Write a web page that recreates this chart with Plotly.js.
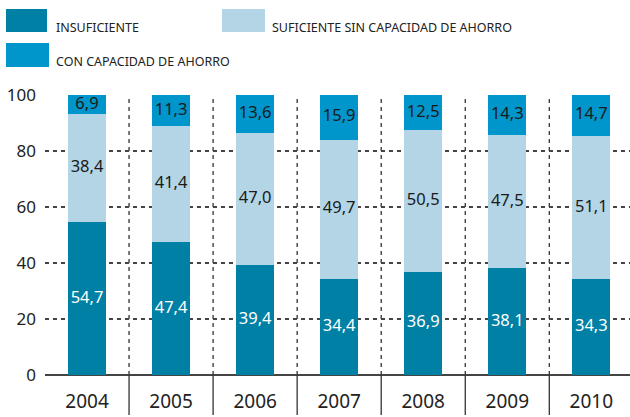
<!DOCTYPE html>
<html>
<head>
<meta charset="utf-8">
<script src="https://cdn.plot.ly/plotly-3.0.1.min.js"></script>
<style>html,body{margin:0;padding:0;background:#fff;}#chart{width:630px;height:417px;}</style>
</head>
<body>
<div id="chart"></div>
<script>
const years = ["2004","2005","2006","2007","2008","2009","2010"];
const insuficiente = [54.7, 47.4, 39.4, 34.4, 36.9, 38.1, 34.3];
const suficienteSin = [38.4, 41.4, 47.0, 49.7, 50.5, 47.5, 51.1];
const conCapacidad = [6.9, 11.3, 13.6, 15.9, 12.5, 14.3, 14.7];
const seriesNames = ["INSUFICIENTE", "SUFICIENTE SIN CAPACIDAD DE AHORRO", "CON CAPACIDAD DE AHORRO"];
const yTicks = [0, 20, 40, 60, 80, 100];

const colors = ["#0080A4", "#B3D5E6", "#0095CB"];
const textColors = ["#ffffff", "#1a1a1a", "#1a1a1a"];
const FONT = "Noto Sans, sans-serif";
const fmt = v => v.toFixed(1).replace(".", ",");

const seriesData = [insuficiente, suficienteSin, conCapacidad];
const traces = [];
const base = years.map(() => 0);
seriesData.forEach((vals, i) => {
  traces.push({
    type: "bar",
    x: years,
    y: vals,
    name: seriesNames[i],
    marker: {color: colors[i], line: {width: 0}},
    textposition: "none",
    hoverinfo: "skip"
  });
});
// value labels placed at the middle of each stacked segment
seriesData.forEach((vals, i) => {
  const mids = vals.map((v, j) => base[j] + v / 2);
  vals.forEach((v, j) => { base[j] += v; });
  traces.push({
    type: "scatter",
    mode: "text",
    x: years,
    y: mids,
    text: vals.map(fmt),
    textposition: "middle center",
    textfont: {family: FONT, size: 16.5, color: textColors[i]},
    hoverinfo: "skip",
    showlegend: false,
    cliponaxis: false
  });
});

// layout geometry helpers (paper coords)
const L = 45, R = 0, T = 95, B = 42, W = 630, H = 417;
const pw = W - L - R, ph = H - T - B;
const px = v => (v - L) / pw;
const py = v => (H - B - v) / ph;

const shapes = [];
const annotations = [];
// vertical separators between categories
for (let i = 0; i < years.length - 1; i++) {
  shapes.push({type: "line", xref: "x", yref: "paper", x0: i + 0.5, x1: i + 0.5, y0: 0, y1: 1,
    line: {color: "#333", width: 1.3, dash: "4px,4px"}, layer: "below"});
  shapes.push({type: "line", xref: "x", yref: "paper", x0: i + 0.5, x1: i + 0.5, y0: 0, y1: py(415),
    line: {color: "#333", width: 1.3}, layer: "above"});
}
// legend
const legendItems = [
  {sx0: 6, sx1: 47, sy0: 9, sy1: 32, tx: 54, ty: 26},
  {sx0: 222, sx1: 265, sy0: 9, sy1: 32, tx: 270, ty: 26},
  {sx0: 6, sx1: 49, sy0: 43, sy1: 67, tx: 54, ty: 60}
];
legendItems.forEach((it, i) => {
  shapes.push({type: "rect", xref: "paper", yref: "paper", x0: px(it.sx0), x1: px(it.sx1), y0: py(it.sy1), y1: py(it.sy0),
    fillcolor: colors[i], line: {width: 0}});
  annotations.push({xref: "paper", yref: "paper", x: px(it.tx), y: py(it.ty + 1), xanchor: "left", yanchor: "middle",
    text: seriesNames[i], showarrow: false, font: {family: FONT, size: 12.5, color: "#222"}});
});

const layout = {
  width: W, height: H,
  margin: {l: L, r: R, t: T, b: B, pad: 0},
  paper_bgcolor: "#fff", plot_bgcolor: "#fff",
  barmode: "stack",
  bargap: 0.55,
  showlegend: false,
  xaxis: {
    type: "category",
    range: [-0.5, 6.46],
    showgrid: false,
    zeroline: false,
    showline: false,
    ticks: "",
    ticklabelstandoff: 13,
    tickfont: {family: FONT, size: 19, color: "#222"},
    fixedrange: true
  },
  yaxis: {
    range: [0, 100],
    tickvals: yTicks,
    ticktext: yTicks.map(String),
    showgrid: true,
    gridcolor: "#444",
    griddash: "4px,4px",
    gridwidth: 1.2,
    zeroline: true,
    zerolinecolor: "#444",
    zerolinewidth: 1.6,
    showline: false,
    ticks: "",
    ticklabelstandoff: 8,
    tickfont: {family: FONT, size: 17, color: "#222"},
    fixedrange: true
  },
  shapes: shapes,
  annotations: annotations
};

Plotly.newPlot("chart", traces, layout, {displayModeBar: false, staticPlot: true});
</script>
</body>
</html>
